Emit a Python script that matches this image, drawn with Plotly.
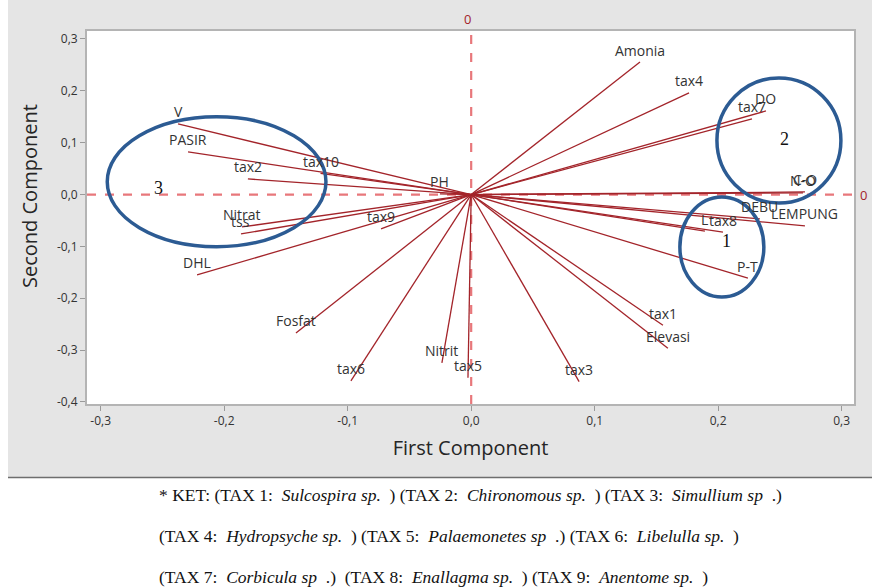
import plotly.graph_objects as go

# ---- data (loadings) ----
var_names = ["Amonia", "tax4", "DO", "tax7", "C-O", "N-O", "DEBU", "LEMPUNG", "L", "tax8",
             "P-T", "tax1", "Elevasi", "tax3", "tax5", "Nitrit", "tax6", "Fosfat", "DHL",
             "tss", "Nitrat", "tax9", "tax2", "tax10", "PASIR", "V", "PH"]
pc1 = [0.1367, 0.1764, 0.2387, 0.2274, 0.2703, 0.2687, 0.2338, 0.2703, 0.1893, 0.2039,
       0.2241, 0.1553, 0.1593, 0.0874, -0.0026, -0.0237, -0.0974, -0.1419, -0.2220,
       -0.1864, -0.1856, -0.0730, -0.1808, -0.1220, -0.2293, -0.2374, -0.0253]
pc2 = [0.2555, 0.1960, 0.1612, 0.1458, 0.0050, 0.0031, -0.0470, -0.0605, -0.0706, -0.0725,
       -0.1612, -0.2519, -0.2963, -0.3608, -0.3535, -0.3246, -0.3594, -0.2669, -0.1550,
       -0.0760, -0.0625, -0.0663, 0.0301, 0.0410, 0.0821, 0.1361, 0.0012]

tick_vals_x = [-0.3, -0.2, -0.1, 0.0, 0.1, 0.2, 0.3]
tick_text_x = ["-0,3", "-0,2", "-0,1", "0,0", "0,1", "0,2", "0,3"]
tick_vals_y = [0.3, 0.2, 0.1, 0.0, -0.1, -0.2, -0.3, -0.4]
tick_text_y = ["0,3", "0,2", "0,1", "0,0", "-0,1", "-0,2", "-0,3", "-0,4"]

group_names = ["1", "2", "3"]
group_x = [0.207, 0.254, -0.2535]
group_y = [-0.0895, 0.107, 0.0127]
# ellipse bounds: x0, x1, y0, y1
group_x0 = [0.169, 0.199, -0.2947]
group_x1 = [0.237, 0.2994, -0.1176]
group_y0 = [-0.1975, -0.0162, -0.1005]
group_y1 = [-0.0046, 0.2248, 0.150]

caption_lines = [
    "* KET: (TAX 1:  <i>Sulcospira sp.</i>  ) (TAX 2:  <i>Chironomous sp.</i>  ) (TAX 3:  <i>Simullium sp</i>  .)",
    "(TAX 4:  <i>Hydropsyche sp.</i>  ) (TAX 5:  <i>Palaemonetes sp</i>  .) (TAX 6:  <i>Libelulla sp.</i>  )",
    "(TAX 7:  <i>Corbicula sp</i>  .)  (TAX 8:  <i>Enallagma sp.</i>  ) (TAX 9:  <i>Anentome sp.</i>  )",
]

# ---- layout geometry (figure placed 8px from the left of the page) ----
OFF_X = 8
W, H = 864, 588
L, R, T, B = 79, 846, 31, 404   # plot area in figure pixels


def px(xs):
    """screen x -> paper x"""
    return (xs - OFF_X - L) / (R - L)


def py(ys):
    """screen y -> paper y"""
    return (B - ys) / (B - T)


fig = go.Figure()

VEC_COLOR = "#a3242a"
for n, x, y in zip(var_names, pc1, pc2):
    fig.add_trace(go.Scatter(x=[0, x], y=[0, y], mode="lines",
                             line=dict(color=VEC_COLOR, width=1.3),
                             hoverinfo="skip", showlegend=False))

annotations = []
for n, x, y in zip(var_names, pc1, pc2):
    annotations.append(dict(x=x, y=y, xref="x", yref="y", text=n, showarrow=False,
                            yshift=12, font=dict(family="Open Sans", size=14, color="#333333")))

for g, x, y in zip(group_names, group_x, group_y):
    annotations.append(dict(x=x, y=y, xref="x", yref="y", text=g, showarrow=False,
                            font=dict(family="Liberation Serif", size=18, color="#111111")))

# reference line labels "0"
annotations.append(dict(x=0, y=1, xref="x", yref="paper", text="0", showarrow=False,
                        yanchor="bottom", xshift=-4, yshift=1,
                        font=dict(family="Open Sans", size=13, color="#a3242a")))
annotations.append(dict(x=1, y=0, xref="paper", yref="y", text="0", showarrow=False,
                        xanchor="left", xshift=4,
                        font=dict(family="Open Sans", size=13, color="#a3242a")))

# y axis title
annotations.append(dict(x=px(30), y=py(196), xref="paper", yref="paper",
                        text="Second Component", textangle=-90, showarrow=False,
                        xanchor="center", yanchor="middle",
                        font=dict(family="Open Sans", size=20, color="#262626")))

caption_y = [495, 536, 577]
for line, yy in zip(caption_lines, caption_y):
    annotations.append(dict(x=px(157), y=py(yy), xref="paper", yref="paper", text=line,
                            showarrow=False, xanchor="left", yanchor="middle",
                            font=dict(family="Liberation Serif", size=17.5, color="#111111")))

shapes = []
# white area below the grey chart panel
shapes.append(dict(type="rect", xref="paper", yref="paper", x0=px(0), x1=px(880),
                   y0=py(600), y1=py(477), fillcolor="white", line=dict(width=0), layer="below"))
shapes.append(dict(type="line", xref="paper", yref="paper", x0=px(8), x1=px(872),
                   y0=py(477.5), y1=py(477.5), line=dict(color="#6e6e6e", width=1.5)))
# dashed reference lines
shapes.append(dict(type="line", xref="x", yref="paper", x0=0, x1=0, y0=0, y1=1,
                   line=dict(color="#e8777b", width=2.2, dash="dash"), layer="below"))
shapes.append(dict(type="line", xref="paper", yref="y", x0=0, x1=1.005, y0=0, y1=0,
                   line=dict(color="#e8777b", width=2.2, dash="dash"), layer="below"))
# group ellipses
for x0, x1, y0, y1 in zip(group_x0, group_x1, group_y0, group_y1):
    shapes.append(dict(type="circle", xref="x", yref="y", x0=x0, x1=x1, y0=y0, y1=y1,
                       line=dict(color="#2c5b93", width=3.5)))

fig.update_layout(
    width=W, height=H,
    margin=dict(l=L, r=W - R, t=T, b=H - B, pad=0),
    paper_bgcolor="#e5e5e5",
    plot_bgcolor="white",
    showlegend=False,
    annotations=annotations,
    shapes=shapes,
    font=dict(family="Open Sans", color="#333333"),
)

fig.update_xaxes(range=[-0.3111, 0.31], tickvals=tick_vals_x, ticktext=tick_text_x,
                 showgrid=False, zeroline=False, showline=True, mirror=True,
                 linecolor="#b4b4b4", linewidth=2, ticks="outside", ticklen=5,
                 tickcolor="#9a9a9a", tickfont=dict(size=12, color="#333333"),
                 title=dict(text="First Component", font=dict(size=20, color="#262626"), standoff=13))
fig.update_yaxes(range=[-0.4039, 0.3154], tickvals=tick_vals_y, ticktext=tick_text_y,
                 showgrid=False, zeroline=False, showline=True, mirror=True,
                 linecolor="#b4b4b4", linewidth=2, ticks="outside", ticklen=5,
                 tickcolor="#9a9a9a", tickfont=dict(size=12, color="#333333"))

fig.write_html("out.html", post_script="document.body.style.margin='0 0 0 8px';")
